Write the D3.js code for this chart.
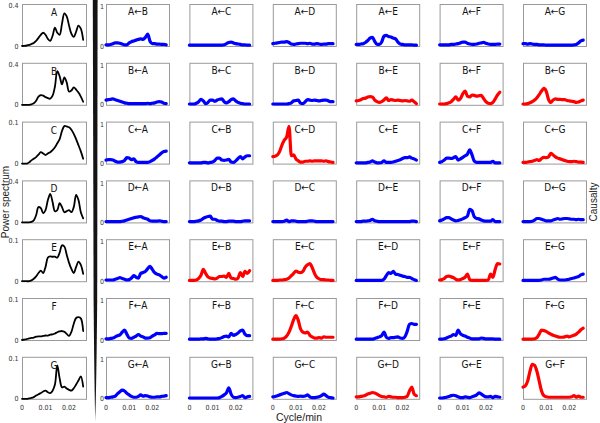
<!DOCTYPE html>
<html><head><meta charset="utf-8">
<script src="https://cdn.jsdelivr.net/npm/d3@7"></script>
<style>body{margin:0;background:#fff} svg{display:block}</style>
</head><body><svg id="c" width="600" height="423"></svg>
<script>
// ---------- DATA ----------
const nodes = ["A","B","C","D","E","F","G"];
const freq = [0,0.001,0.002,0.003,0.004,0.005,0.006,0.007,0.008,0.009,0.010,0.011,0.012,0.013,0.014,0.015,0.016,0.017,0.018,0.019,0.020,0.021,0.022,0.023,0.024,0.025,0.026];
const xTicks = [0, 0.01, 0.02];
const xTickLabels = ["0", "0.01", "0.02"];
const specTop = [0.4, 0.4, 0.1, 0.4, 0.1, 0.1, 0.1];
const specTopLabels = ["0.4","0.4","0.1","0.4","0.1","0.1","0.1"];
const causTop = 1;

// power spectra
const specA = [0,0.002,0.005,0.01,0.02,0.03,0.05,0.08,0.11,0.13,0.11,0.07,0.05,0.1,0.18,0.13,0.11,0.22,0.32,0.29,0.2,0.12,0.09,0.14,0.2,0.17,0.06];
const specB = [0,0,0,0,0.005,0.015,0.04,0.08,0.095,0.09,0.075,0.065,0.06,0.09,0.18,0.33,0.28,0.2,0.27,0.22,0.13,0.14,0.17,0.15,0.12,0.08,0.03];
const specC = [0,0,0,0.003,0.008,0.012,0.016,0.022,0.028,0.025,0.021,0.025,0.028,0.033,0.04,0.05,0.06,0.08,0.092,0.091,0.089,0.083,0.073,0.06,0.045,0.03,0.012];
const specD = [0,0,0,0,0.005,0.02,0.07,0.15,0.14,0.09,0.12,0.22,0.28,0.2,0.11,0.12,0.19,0.15,0.1,0.11,0.12,0.1,0.15,0.27,0.22,0.1,0.04];
const specE = [0,0,0,0,0.002,0.006,0.012,0.02,0.026,0.02,0.035,0.058,0.061,0.06,0.06,0.058,0.07,0.088,0.085,0.065,0.045,0.03,0.02,0.035,0.048,0.04,0.018];
const specF = [0,0.001,0.002,0.004,0.005,0.006,0.008,0.009,0.009,0.01,0.011,0.011,0.013,0.014,0.016,0.019,0.021,0.022,0.02,0.015,0.01,0.02,0.04,0.054,0.056,0.053,0.022];
const specG = [0,0,0,0.001,0.002,0.004,0.008,0.011,0.014,0.018,0.02,0.016,0.014,0.02,0.035,0.082,0.05,0.028,0.03,0.025,0.022,0.02,0.026,0.035,0.045,0.055,0.03];

// causality  (target <- source)
const cAB = [0.03,0.03,0.04,0.06,0.08,0.08,0.07,0.05,0.03,0.03,0.08,0.11,0.13,0.15,0.17,0.18,0.17,0.22,0.3,0.12,0.06,0.06,0.05,0.05,0.04,0.04,0.03];
const cAC = [0.02,0.02,0.02,0.02,0.02,0.02,0.02,0.02,0.02,0.02,0.02,0.02,0.02,0.02,0.02,0.03,0.06,0.09,0.1,0.08,0.06,0.05,0.04,0.03,0.03,0.02,0.02];
const cAD = [0.06,0.07,0.08,0.09,0.1,0.1,0.11,0.09,0.05,0.04,0.05,0.06,0.07,0.07,0.07,0.06,0.07,0.05,0.05,0.06,0.05,0.04,0.05,0.05,0.06,0.06,0.06];
const cAE = [0.04,0.04,0.05,0.06,0.09,0.14,0.2,0.22,0.12,0.04,0.04,0.1,0.25,0.27,0.24,0.23,0.2,0.18,0.1,0.05,0.04,0.03,0.03,0.03,0.03,0.02,0.02];
const cAF = [0.03,0.03,0.03,0.03,0.03,0.04,0.04,0.05,0.06,0.08,0.1,0.1,0.07,0.05,0.04,0.04,0.05,0.07,0.08,0.09,0.07,0.05,0.04,0.04,0.04,0.05,0.05];
const cAG = [0.06,0.06,0.05,0.06,0.05,0.04,0.04,0.03,0.03,0.03,0.02,0.02,0.02,0.02,0.02,0.02,0.02,0.02,0.02,0.02,0.02,0.02,0.03,0.04,0.08,0.13,0.15];

const cBA = [0.12,0.13,0.14,0.15,0.13,0.11,0.09,0.07,0.05,0.04,0.03,0.03,0.03,0.03,0.03,0.03,0.03,0.03,0.04,0.03,0.04,0.05,0.07,0.08,0.07,0.04,0.03];
const cBC = [0.02,0.02,0.02,0.04,0.08,0.14,0.1,0.03,0.06,0.12,0.12,0.09,0.12,0.14,0.15,0.08,0.05,0.08,0.13,0.15,0.1,0.06,0.04,0.03,0.02,0.02,0.02];
const cBD = [0.02,0.02,0.02,0.02,0.02,0.02,0.02,0.03,0.05,0.1,0.11,0.12,0.04,0.03,0.08,0.13,0.12,0.11,0.12,0.11,0.1,0.11,0.12,0.12,0.1,0.08,0.08];
const cBE = [0.1,0.11,0.13,0.16,0.17,0.2,0.21,0.2,0.12,0.08,0.06,0.08,0.12,0.18,0.11,0.13,0.12,0.11,0.12,0.11,0.1,0.11,0.1,0.09,0.12,0.08,0.03];
const cBF = [0.02,0.02,0.02,0.03,0.05,0.08,0.14,0.2,0.12,0.16,0.28,0.35,0.22,0.2,0.25,0.24,0.22,0.23,0.24,0.16,0.08,0.04,0.03,0.06,0.15,0.25,0.32];
const cBG = [0.02,0.02,0.03,0.05,0.08,0.12,0.18,0.26,0.35,0.42,0.35,0.14,0.06,0.12,0.15,0.14,0.14,0.13,0.13,0.11,0.1,0.09,0.08,0.06,0.07,0.1,0.12];

const cCA = [0.09,0.1,0.1,0.09,0.06,0.04,0.04,0.05,0.08,0.15,0.14,0.1,0.12,0.05,0.03,0.03,0.03,0.03,0.03,0.05,0.08,0.12,0.17,0.22,0.27,0.31,0.32];
const cCB = [0.02,0.02,0.02,0.02,0.02,0.02,0.03,0.03,0.02,0.03,0.04,0.08,0.14,0.14,0.09,0.08,0.09,0.11,0.04,0.03,0.07,0.13,0.18,0.12,0.17,0.2,0.2];
const cCD = [0.18,0.19,0.22,0.32,0.48,0.6,0.68,0.95,0.2,0.22,0.12,0.07,0.04,0.04,0.06,0.06,0.07,0.06,0.07,0.07,0.07,0.07,0.06,0.07,0.05,0.04,0.03];
const cCE = [0.02,0.02,0.02,0.02,0.02,0.03,0.04,0.07,0.04,0.02,0.02,0.03,0.07,0.03,0.03,0.03,0.04,0.06,0.08,0.1,0.13,0.15,0.15,0.17,0.14,0.12,0.09];
const cCF = [0.03,0.05,0.09,0.14,0.14,0.13,0.15,0.18,0.09,0.12,0.16,0.2,0.24,0.35,0.22,0.06,0.03,0.03,0.03,0.03,0.03,0.03,0.03,0.06,0.02,0.02,0.02];
const cCG = [0.03,0.03,0.04,0.05,0.06,0.08,0.1,0.08,0.13,0.16,0.15,0.17,0.26,0.22,0.17,0.14,0.12,0.1,0.08,0.06,0.05,0.05,0.06,0.05,0.04,0.04,0.03];

const cDA = [0.02,0.02,0.02,0.02,0.02,0.02,0.02,0.03,0.04,0.06,0.08,0.1,0.12,0.13,0.14,0.15,0.12,0.1,0.08,0.04,0.03,0.03,0.03,0.04,0.03,0.02,0.02];
const cDB = [0.02,0.02,0.02,0.03,0.04,0.06,0.1,0.13,0.15,0.16,0.08,0.08,0.05,0.03,0.03,0.02,0.02,0.03,0.03,0.03,0.02,0.02,0.02,0.03,0.04,0.04,0.04];
const cDC = [0.02,0.02,0.02,0.02,0.02,0.03,0.06,0.02,0.04,0.04,0.03,0.02,0.02,0.02,0.02,0.03,0.04,0.04,0.03,0.02,0.02,0.02,0.02,0.02,0.02,0.02,0.02];
const cDE = [0.02,0.02,0.02,0.03,0.03,0.04,0.05,0.08,0.04,0.03,0.02,0.02,0.02,0.02,0.02,0.02,0.02,0.02,0.02,0.02,0.02,0.02,0.02,0.02,0.03,0.03,0.02];
const cDF = [0.04,0.06,0.09,0.12,0.12,0.09,0.06,0.04,0.05,0.07,0.09,0.12,0.16,0.33,0.3,0.14,0.1,0.09,0.06,0.04,0.03,0.03,0.03,0.07,0.02,0.02,0.02];
const cDG = [0.02,0.02,0.02,0.02,0.03,0.06,0.1,0.1,0.08,0.06,0.04,0.04,0.04,0.06,0.08,0.1,0.08,0.09,0.1,0.1,0.09,0.08,0.08,0.07,0.08,0.07,0.07];

const cEA = [0.03,0.03,0.03,0.03,0.05,0.07,0.09,0.07,0.05,0.03,0.04,0.08,0.14,0.1,0.08,0.2,0.22,0.25,0.32,0.38,0.3,0.22,0.18,0.16,0.12,0.08,0.1];
const cEB = [0.02,0.02,0.02,0.03,0.07,0.15,0.3,0.2,0.11,0.08,0.07,0.06,0.08,0.12,0.12,0.13,0.1,0.2,0.08,0.07,0.05,0.08,0.22,0.12,0.25,0.2,0.27];
const cEC = [0.02,0.02,0.02,0.03,0.03,0.04,0.05,0.08,0.14,0.2,0.26,0.23,0.22,0.25,0.36,0.42,0.45,0.35,0.2,0.1,0.06,0.04,0.04,0.03,0.03,0.02,0.02];
const cED = [0.02,0.02,0.02,0.02,0.02,0.02,0.02,0.02,0.02,0.02,0.02,0.02,0.05,0.14,0.22,0.2,0.25,0.18,0.17,0.15,0.13,0.12,0.1,0.1,0.07,0.04,0.02];
const cEF = [0.03,0.04,0.07,0.12,0.13,0.11,0.09,0.05,0.03,0.04,0.07,0.1,0.18,0.04,0.02,0.02,0.02,0.02,0.02,0.02,0.02,0.03,0.18,0.1,0.3,0.45,0.44];
const cEG = [0.02,0.02,0.02,0.02,0.02,0.02,0.02,0.02,0.03,0.05,0.05,0.05,0.06,0.08,0.1,0.05,0.03,0.03,0.03,0.04,0.05,0.07,0.08,0.1,0.12,0.16,0.18];

const cFA = [0.03,0.03,0.04,0.05,0.08,0.11,0.13,0.2,0.25,0.15,0.05,0.04,0.07,0.1,0.14,0.1,0.08,0.05,0.05,0.06,0.1,0.13,0.17,0.16,0.16,0.17,0.17];
const cFB = [0.02,0.02,0.02,0.02,0.02,0.03,0.03,0.04,0.03,0.02,0.02,0.02,0.03,0.04,0.06,0.09,0.1,0.08,0.17,0.12,0.14,0.18,0.23,0.25,0.15,0.11,0.11];
const cFC = [0.02,0.02,0.02,0.02,0.03,0.05,0.1,0.2,0.35,0.52,0.62,0.5,0.28,0.2,0.18,0.2,0.12,0.08,0.05,0.05,0.06,0.05,0.08,0.07,0.07,0.07,0.07];
const cFD = [0.02,0.02,0.02,0.02,0.02,0.02,0.02,0.02,0.04,0.06,0.08,0.11,0.2,0.07,0.04,0.06,0.06,0.07,0.08,0.05,0.04,0.08,0.22,0.4,0.42,0.4,0.4];
const cFE = [0.02,0.02,0.03,0.05,0.08,0.1,0.14,0.12,0.25,0.16,0.12,0.1,0.07,0.05,0.03,0.03,0.03,0.03,0.05,0.04,0.03,0.03,0.03,0.03,0.02,0.02,0.02];
const cFG = [0.02,0.02,0.02,0.02,0.02,0.03,0.06,0.15,0.25,0.24,0.22,0.18,0.15,0.12,0.1,0.08,0.07,0.07,0.08,0.1,0.08,0.1,0.12,0.15,0.2,0.26,0.3];

const cGA = [0.03,0.03,0.04,0.05,0.07,0.13,0.18,0.22,0.2,0.14,0.1,0.06,0.04,0.04,0.06,0.1,0.07,0.08,0.07,0.05,0.04,0.04,0.05,0.05,0.06,0.07,0.08];
const cGB = [0.02,0.02,0.02,0.02,0.02,0.02,0.02,0.02,0.02,0.02,0.02,0.02,0.02,0.03,0.06,0.1,0.15,0.28,0.12,0.04,0.03,0.04,0.06,0.08,0.03,0.05,0.06];
const cGC = [0.05,0.06,0.08,0.1,0.12,0.14,0.16,0.13,0.1,0.08,0.07,0.06,0.07,0.06,0.07,0.1,0.05,0.03,0.03,0.04,0.05,0.08,0.12,0.08,0.04,0.03,0.02];
const cGD = [0.05,0.05,0.06,0.07,0.09,0.12,0.14,0.16,0.15,0.12,0.08,0.06,0.05,0.04,0.06,0.05,0.04,0.04,0.03,0.03,0.03,0.04,0.06,0.2,0.3,0.12,0.08];
const cGE = [0.02,0.02,0.03,0.04,0.06,0.08,0.09,0.08,0.05,0.03,0.03,0.05,0.04,0.03,0.05,0.07,0.1,0.15,0.12,0.08,0.05,0.05,0.06,0.03,0.06,0.05,0.04];
const cGF = [0.3,0.33,0.45,0.7,0.88,0.85,0.7,0.45,0.2,0.08,0.05,0.04,0.04,0.04,0.04,0.04,0.04,0.04,0.04,0.04,0.04,0.05,0.08,0.04,0.07,0.04,0.04];

const significant = ["BE","BF","BG","CD","CG","EB","EC","EF","FC","FG","GD","GF"];

// ---------- LAYOUT ----------
const spectra = {A:specA,B:specB,C:specC,D:specD,E:specE,F:specF,G:specG};
const caus = {AB:cAB,AC:cAC,AD:cAD,AE:cAE,AF:cAF,AG:cAG,BA:cBA,BC:cBC,BD:cBD,BE:cBE,BF:cBF,BG:cBG,
  CA:cCA,CB:cCB,CD:cCD,CE:cCE,CF:cCF,CG:cCG,DA:cDA,DB:cDB,DC:cDC,DE:cDE,DF:cDF,DG:cDG,
  EA:cEA,EB:cEB,EC:cEC,ED:cED,EF:cEF,EG:cEG,FA:cFA,FB:cFB,FC:cFC,FD:cFD,FE:cFE,FG:cFG,
  GA:cGA,GB:cGB,GC:cGC,GD:cGD,GE:cGE,GF:cGF};

const svg = d3.select("#c");
const rowTop = i => 4 + i * 58.8;
const H = 42;
const specX0 = 22, specW = 64;
const causX0 = j => 106 + j * 83.4, causW = 63;
const narrow = "'Liberation Sans Narrow','DejaVu Sans Condensed','Liberation Sans',sans-serif";
const tickFont = 7;

// separator wedge
svg.append("path")
  .attr("d", "M92.8,0 L97.6,0 L97.2,300 Q96.5,380 95.2,421 Q94.3,380 93.6,300 Z")
  .attr("fill", "#141414");

function panel(x0, w, top, values, yMax, color, lw, curve) {
  const g = svg.append("g");
  const x = d3.scaleLinear().domain([0, 0.0272]).range([x0, x0 + w]);
  const y = d3.scaleLinear().domain([0, yMax]).range([top + H, top]);
  g.append("rect").attr("x", x0 + 0.5).attr("y", top + 0.5).attr("width", w).attr("height", H)
    .attr("fill", "none").attr("stroke", "#9a9a9a").attr("stroke-width", 1);
  const line = d3.line().x((d, i) => x(freq[i])).y(d => y(d)).curve(curve);
  g.append("path").datum(values).attr("d", line)
    .attr("fill", "none").attr("stroke", color).attr("stroke-width", lw)
    .attr("stroke-linejoin", "round").attr("stroke-linecap", "round");
  return {g, x, y};
}

nodes.forEach((t, i) => {
  const top = rowTop(i);
  // spectrum
  const p = panel(specX0, specW, top, spectra[t], specTop[i] * 1.03, "#000", 1.8, d3.curveCatmullRom);
  p.g.append("text").attr("x", specX0 + 32).attr("y", top + 12).attr("text-anchor", "middle")
    .attr("font-family", narrow).attr("font-size", 10).attr("fill", "#111").text(t);
  p.g.append("text").attr("x", 18.5).attr("y", p.y(specTop[i]) + 2.5).attr("text-anchor", "end")
    .attr("font-family", narrow).attr("font-size", tickFont).attr("fill", "#333").text(specTopLabels[i]);
  p.g.append("text").attr("x", 18.5).attr("y", p.y(0) + 2.5).attr("text-anchor", "end")
    .attr("font-family", narrow).attr("font-size", tickFont).attr("fill", "#333").text("0");
  if (i === nodes.length - 1) {
    xTicks.forEach((v, k) => p.g.append("text").attr("x", p.x(v)).attr("y", top + H + 11)
      .attr("text-anchor", "middle").attr("font-family", narrow).attr("font-size", tickFont)
      .attr("fill", "#333").text(xTickLabels[k]));
  }
  // causality
  const sources = nodes.filter(s => s !== t);
  sources.forEach((s, j) => {
    const key = t + s;
    const col = significant.includes(key) ? "#ff0000" : "#0000ff";
    const x0 = causX0(j);
    const q = panel(x0, causW, top, caus[key], causTop * 1.07, col, 3.2, d3.curveMonotoneX);
    q.g.append("text").attr("x", x0 + causW / 2 + 0.5).attr("y", top + 11).attr("text-anchor", "middle")
      .attr("font-family", narrow).attr("font-size", 10).attr("fill", "#111").text(t + "\u2190" + s);
    if (j === 0) {
      q.g.append("text").attr("x", 104).attr("y", q.y(causTop) + 2.5).attr("text-anchor", "end")
        .attr("font-family", narrow).attr("font-size", tickFont).attr("fill", "#333").text("1");
      q.g.append("text").attr("x", 104).attr("y", q.y(0) + 2.5).attr("text-anchor", "end")
        .attr("font-family", narrow).attr("font-size", tickFont).attr("fill", "#333").text("0");
    }
    if (i === nodes.length - 1) {
      xTicks.forEach((v, k) => q.g.append("text").attr("x", q.x(v)).attr("y", top + H + 11)
        .attr("text-anchor", "middle").attr("font-family", narrow).attr("font-size", tickFont)
        .attr("fill", "#333").text(xTickLabels[k]));
    }
  });
});

// axis titles
svg.append("text").attr("transform", "translate(9,202) rotate(-90)").attr("text-anchor", "middle")
  .attr("font-family", "'Liberation Sans',sans-serif").attr("font-size", 10).attr("fill", "#222").text("Power spectrum");
svg.append("text").attr("transform", "translate(597,202) rotate(-90)").attr("text-anchor", "middle")
  .attr("font-family", "'Liberation Sans',sans-serif").attr("font-size", 10).attr("fill", "#222").text("Causalty");
svg.append("text").attr("x", 299).attr("y", 421).attr("text-anchor", "middle")
  .attr("font-family", "'Liberation Sans',sans-serif").attr("font-size", 10.5).attr("fill", "#222").text("Cycle/min");
</script></body></html>
